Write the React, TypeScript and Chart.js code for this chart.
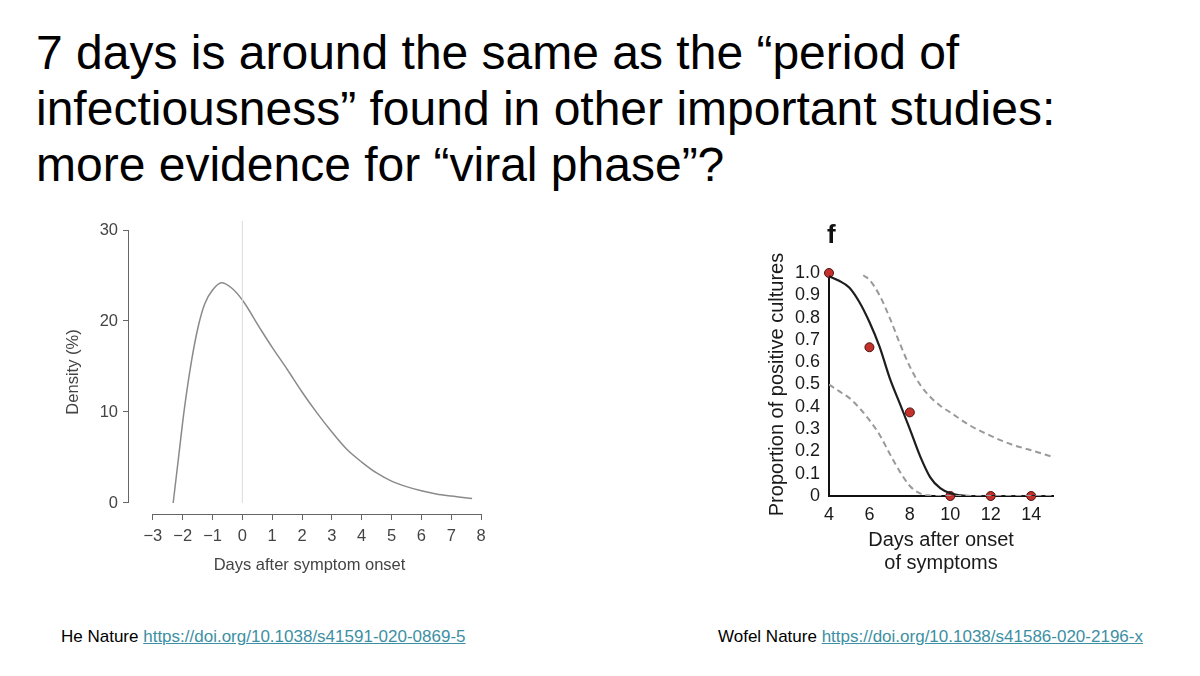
import React, { useEffect, useRef } from "react";
import { Chart, registerables } from "chart.js";

Chart.register(...registerables);

const FONT = '"Liberation Sans", Arial, Helvetica, sans-serif';

// ---- Left chart (He et al.) ----
const heDays = [-2.32, -2.15, -1.95, -1.7, -1.48, -1.26, -1.0, -0.7, -0.35, 0, 0.59, 1, 1.5, 2, 2.5, 3, 3.5, 4, 4.5, 5, 5.5, 6, 6.5, 7, 7.7];
const heDensity = [0, 4.7, 10.2, 15.7, 19.4, 21.9, 23.4, 24.2, 23.6, 22.3, 19.2, 17.1, 14.7, 12.2, 9.9, 7.8, 5.9, 4.5, 3.3, 2.4, 1.8, 1.35, 1.0, 0.77, 0.5];
const heXTicks = [-3, -2, -1, 0, 1, 2, 3, 4, 5, 6, 7, 8];
const heYTicks = [0, 10, 20, 30];
const onsetX = [0, 0];
const onsetY = [0, 31];

// ---- Right chart (Wölfel et al.) ----
const culDays = [4, 6, 8, 10, 12, 14];
const culProp = [1.0, 0.667, 0.375, 0, 0, 0];
const fitDays = [4, 4.5, 5, 5.5, 6, 6.5, 7, 7.5, 8, 8.5, 9, 9.5, 10, 10.5, 11, 15];
const fitProp = [0.985, 0.965, 0.935, 0.87, 0.78, 0.67, 0.53, 0.415, 0.3, 0.18, 0.085, 0.035, 0.012, 0.003, 0, 0];
const upperDays = [5.69, 6, 6.5, 7, 7.5, 8, 8.5, 9, 9.5, 10, 11, 12, 13, 14, 15];
const upperProp = [0.99, 0.97, 0.9, 0.8, 0.685, 0.58, 0.5, 0.445, 0.405, 0.375, 0.315, 0.27, 0.232, 0.205, 0.177];
const lowerDays = [4, 4.5, 5, 5.5, 6, 6.5, 7, 7.5, 8, 8.5, 9, 9.5, 15];
const lowerProp = [0.5, 0.47, 0.44, 0.395, 0.34, 0.275, 0.19, 0.11, 0.045, 0.012, 0.002, 0, 0];
const culXTicks = [4, 6, 8, 10, 12, 14];
const culYTicks = [0, 0.1, 0.2, 0.3, 0.4, 0.5, 0.6, 0.7, 0.8, 0.9, 1.0];

const zip = (xs: number[], ys: number[]) => xs.map((x, i) => ({ x, y: ys[i] }));

const rAxesPlugin = {
  id: "rAxes",
  afterDraw(chart: any) {
    const { ctx, chartArea, scales } = chart;
    const x = scales.x;
    const y = scales.y;
    ctx.save();
    ctx.strokeStyle = "#666";
    ctx.lineWidth = 1;
    ctx.beginPath();
    const lx = Math.round(chartArea.left) - 0.5;
    ctx.moveTo(lx, y.getPixelForValue(heYTicks[0]));
    ctx.lineTo(lx, y.getPixelForValue(heYTicks[heYTicks.length - 1]));
    const by = Math.round(chartArea.bottom) + 0.5;
    ctx.moveTo(x.getPixelForValue(heXTicks[0]), by);
    ctx.lineTo(x.getPixelForValue(heXTicks[heXTicks.length - 1]), by);
    ctx.stroke();
    ctx.restore();
  },
};

function HeChart() {
  const ref = useRef<HTMLCanvasElement>(null);
  useEffect(() => {
    const chart = new Chart(ref.current!, {
      type: "scatter",
      data: {
        datasets: [
          {
            data: zip(onsetX, onsetY),
            showLine: true,
            borderColor: "#dcdcdc",
            borderWidth: 1,
            pointRadius: 0,
            clip: false as any,
          },
          {
            data: zip(heDays, heDensity),
            showLine: true,
            borderColor: "#8a8a8a",
            borderWidth: 1.5,
            pointRadius: 0,
            cubicInterpolationMode: "monotone",
          },
        ],
      },
      options: {
        animation: false,
        responsive: false,
        maintainAspectRatio: false,
        layout: { padding: { top: 15, right: 10, left: 0, bottom: 0 } },
        plugins: { legend: { display: false }, tooltip: { enabled: false } },
        scales: {
          x: {
            type: "linear",
            min: -3.8,
            max: 8.3,
            afterBuildTicks: (s: any) => {
              s.ticks = heXTicks.map((v) => ({ value: v }));
            },
            afterFit: (s: any) => {
              s.height = 71;
            },
            grid: { display: true, drawOnChartArea: false, drawTicks: true, tickLength: 6, color: "#666" },
            border: { display: false },
            ticks: {
              color: "#444",
              font: { family: FONT, size: 16.5 },
              padding: 7,
              maxRotation: 0,
              autoSkip: false,
              callback: (v: any) => String(v).replace("-", "\u2212"),
            },
            title: {
              display: true,
              text: "Days after symptom onset",
              color: "#444",
              font: { family: FONT, size: 16.5 },
              padding: { top: 4, bottom: 10 },
            },
          },
          y: {
            type: "linear",
            min: -1.21,
            max: 30,
            afterBuildTicks: (s: any) => {
              s.ticks = heYTicks.map((v) => ({ value: v }));
            },
            afterFit: (s: any) => {
              s.width = 69;
            },
            grid: { display: true, drawOnChartArea: false, drawTicks: true, tickLength: 6, color: "#666" },
            border: { display: false },
            ticks: {
              color: "#444",
              font: { family: FONT, size: 16.5 },
              padding: 5,
              autoSkip: false,
            },
            title: {
              display: true,
              text: "Density (%)",
              color: "#444",
              font: { family: FONT, size: 16.5 },
              padding: { top: 4, bottom: 4 },
            },
          },
        },
      },
      plugins: [rAxesPlugin],
    } as any);
    return () => chart.destroy();
  }, []);
  return <canvas ref={ref} width={440} height={370} style={{ position: "absolute", left: 60, top: 215, width: 440, height: 370 }} />;
}

function CultureChart() {
  const ref = useRef<HTMLCanvasElement>(null);
  useEffect(() => {
    const chart = new Chart(ref.current!, {
      type: "scatter",
      data: {
        datasets: [
          {
            data: zip(upperDays, upperProp),
            showLine: true,
            borderColor: "#9a9a9a",
            borderWidth: 2,
            borderDash: [6, 4],
            pointRadius: 0,
            cubicInterpolationMode: "monotone",
          },
          {
            data: zip(lowerDays, lowerProp),
            showLine: true,
            borderColor: "#9a9a9a",
            borderWidth: 2,
            borderDash: [6, 4],
            pointRadius: 0,
            cubicInterpolationMode: "monotone",
          },
          {
            data: zip(fitDays, fitProp),
            showLine: true,
            borderColor: "#1e1e1e",
            borderWidth: 2.2,
            pointRadius: 0,
            cubicInterpolationMode: "monotone",
          },
          {
            data: zip(culDays, culProp),
            showLine: false,
            pointRadius: 4.5,
            backgroundColor: "#c4302b",
            borderColor: "#4a1410",
            borderWidth: 1,
            clip: false as any,
          },
        ],
      },
      options: {
        animation: false,
        responsive: false,
        maintainAspectRatio: false,
        layout: { padding: { top: 48, right: 12, left: 0, bottom: 0 } },
        plugins: { legend: { display: false }, tooltip: { enabled: false } },
        scales: {
          x: {
            type: "linear",
            min: 4,
            max: 15.08,
            afterBuildTicks: (s: any) => {
              s.ticks = culXTicks.map((v) => ({ value: v }));
            },
            afterFit: (s: any) => {
              s.height = 84;
            },
            grid: { display: false, drawTicks: false },
            border: { display: true, color: "#111", width: 2 },
            ticks: {
              color: "#1a1a1a",
              font: { family: FONT, size: 18 },
              padding: 8,
              maxRotation: 0,
              autoSkip: false,
            },
            title: {
              display: true,
              text: ["Days after onset", "of symptoms"],
              color: "#1a1a1a",
              font: { family: FONT, size: 20, lineHeight: 1.15 },
              padding: { top: 2, bottom: 5 },
            },
          },
          y: {
            type: "linear",
            min: 0,
            max: 1.0,
            afterBuildTicks: (s: any) => {
              s.ticks = culYTicks.map((v) => ({ value: v }));
            },
            afterFit: (s: any) => {
              s.width = 74;
            },
            grid: { display: false, drawTicks: false },
            border: { display: true, color: "#111", width: 2 },
            ticks: {
              color: "#1a1a1a",
              font: { family: FONT, size: 18 },
              padding: 9,
              autoSkip: false,
              callback: (v: any) => (v === 0 ? "0" : Number(v).toFixed(1)),
            },
            title: {
              display: true,
              text: "Proportion of positive cultures",
              color: "#1a1a1a",
              font: { family: FONT, size: 20 },
              padding: { top: 10, bottom: 2 },
            },
          },
        },
      },
    } as any);
    return () => chart.destroy();
  }, []);
  return <canvas ref={ref} width={310} height={355} style={{ position: "absolute", left: 755, top: 225, width: 310, height: 355 }} />;
}

const linkStyle: React.CSSProperties = { color: "#3d8fa3", textDecoration: "underline" };

export default function App() {
  return (
    <div
      style={{
        position: "absolute",
        left: 0,
        top: 0,
        width: 1200,
        height: 676,
        background: "#fff",
        overflow: "hidden",
        fontFamily: FONT,
      }}
    >
      <div
        style={{
          position: "absolute",
          left: 36,
          top: 25,
          fontSize: 48,
          lineHeight: "56px",
          color: "#000",
          whiteSpace: "nowrap",
        }}
      >
        7 days is around the same as the “period of
        <br />
        infectiousness” found in other important studies:
        <br />
        more evidence for “viral phase”?
      </div>
      <HeChart />
      <CultureChart />
      <div
        style={{
          position: "absolute",
          left: 827,
          top: 219,
          fontSize: 26,
          fontWeight: "bold",
          lineHeight: "30px",
          color: "#111",
        }}
      >
        f
      </div>
      <div style={{ position: "absolute", left: 61, top: 627, fontSize: 17, lineHeight: "20px", color: "#000", whiteSpace: "nowrap" }}>
        He Nature <a href="https://doi.org/10.1038/s41591-020-0869-5" style={linkStyle}>https://doi.org/10.1038/s41591-020-0869-5</a>
      </div>
      <div style={{ position: "absolute", left: 718, top: 627, fontSize: 17, lineHeight: "20px", color: "#000", whiteSpace: "nowrap" }}>
        Wofel Nature <a href="https://doi.org/10.1038/s41586-020-2196-x" style={linkStyle}>https://doi.org/10.1038/s41586-020-2196-x</a>
      </div>
    </div>
  );
}
